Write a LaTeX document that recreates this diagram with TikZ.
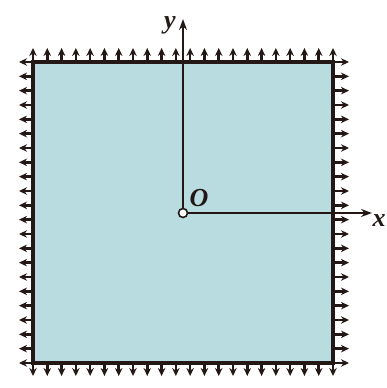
\documentclass[tikz,border=0pt]{standalone}
\usepackage{fontspec}
\setmainfont{Liberation Serif}
\usetikzlibrary{arrows.meta,positioning}
\definecolor{cplate}{RGB}{185,220,225}
\definecolor{cink}{RGB}{35,24,21}

\begin{document}
\begin{tikzpicture}[x=1pt, y=1pt,
    load/.style={cink, line width=2.5pt, -{Stealth[length=8pt,width=7.5pt]}},
    axis/.style={cink, line width=1.6pt, -{Stealth[length=11pt,width=8pt]}},
    lbl/.style={font=\fontsize{26}{26}\selectfont\bfseries\itshape, text=cink, inner sep=0pt}]
  \useasboundingbox (0,0) rectangle (387,388);
  % plate
  \draw[cink, line width=3.2pt, fill=cplate] (33,25) rectangle (333,326);
  % surface loads
  \foreach \i in {0,...,21} {
    \pgfmathsetmacro{\p}{33+\i*300/21}
    \pgfmathsetmacro{\q}{25+\i*301/21}
    \draw[load] (\p,326) -- (\p,340);
    \draw[load] (\p,25) -- (\p,12);
    \draw[load] (33,\q) -- (19,\q);
    \draw[load] (333,\q) -- (349,\q);
  }
  % axes
  \node[circle, draw=cink, fill=white, line width=1.6pt, minimum size=9pt, inner sep=0pt] (o) at (183,175) {};
  \coordinate (xend) at (372,175);
  \coordinate (yend) at (183,369);
  \draw[axis] (o.north) -- (yend);
  \draw[axis] (o.east) -- (xend);
  \node[lbl] (ylab) at (170,363) {y};
  \node[lbl] (olab) at (199,190) {O};
  \node[lbl] (xlab) at (379,167) {x};
\end{tikzpicture}
\end{document}
